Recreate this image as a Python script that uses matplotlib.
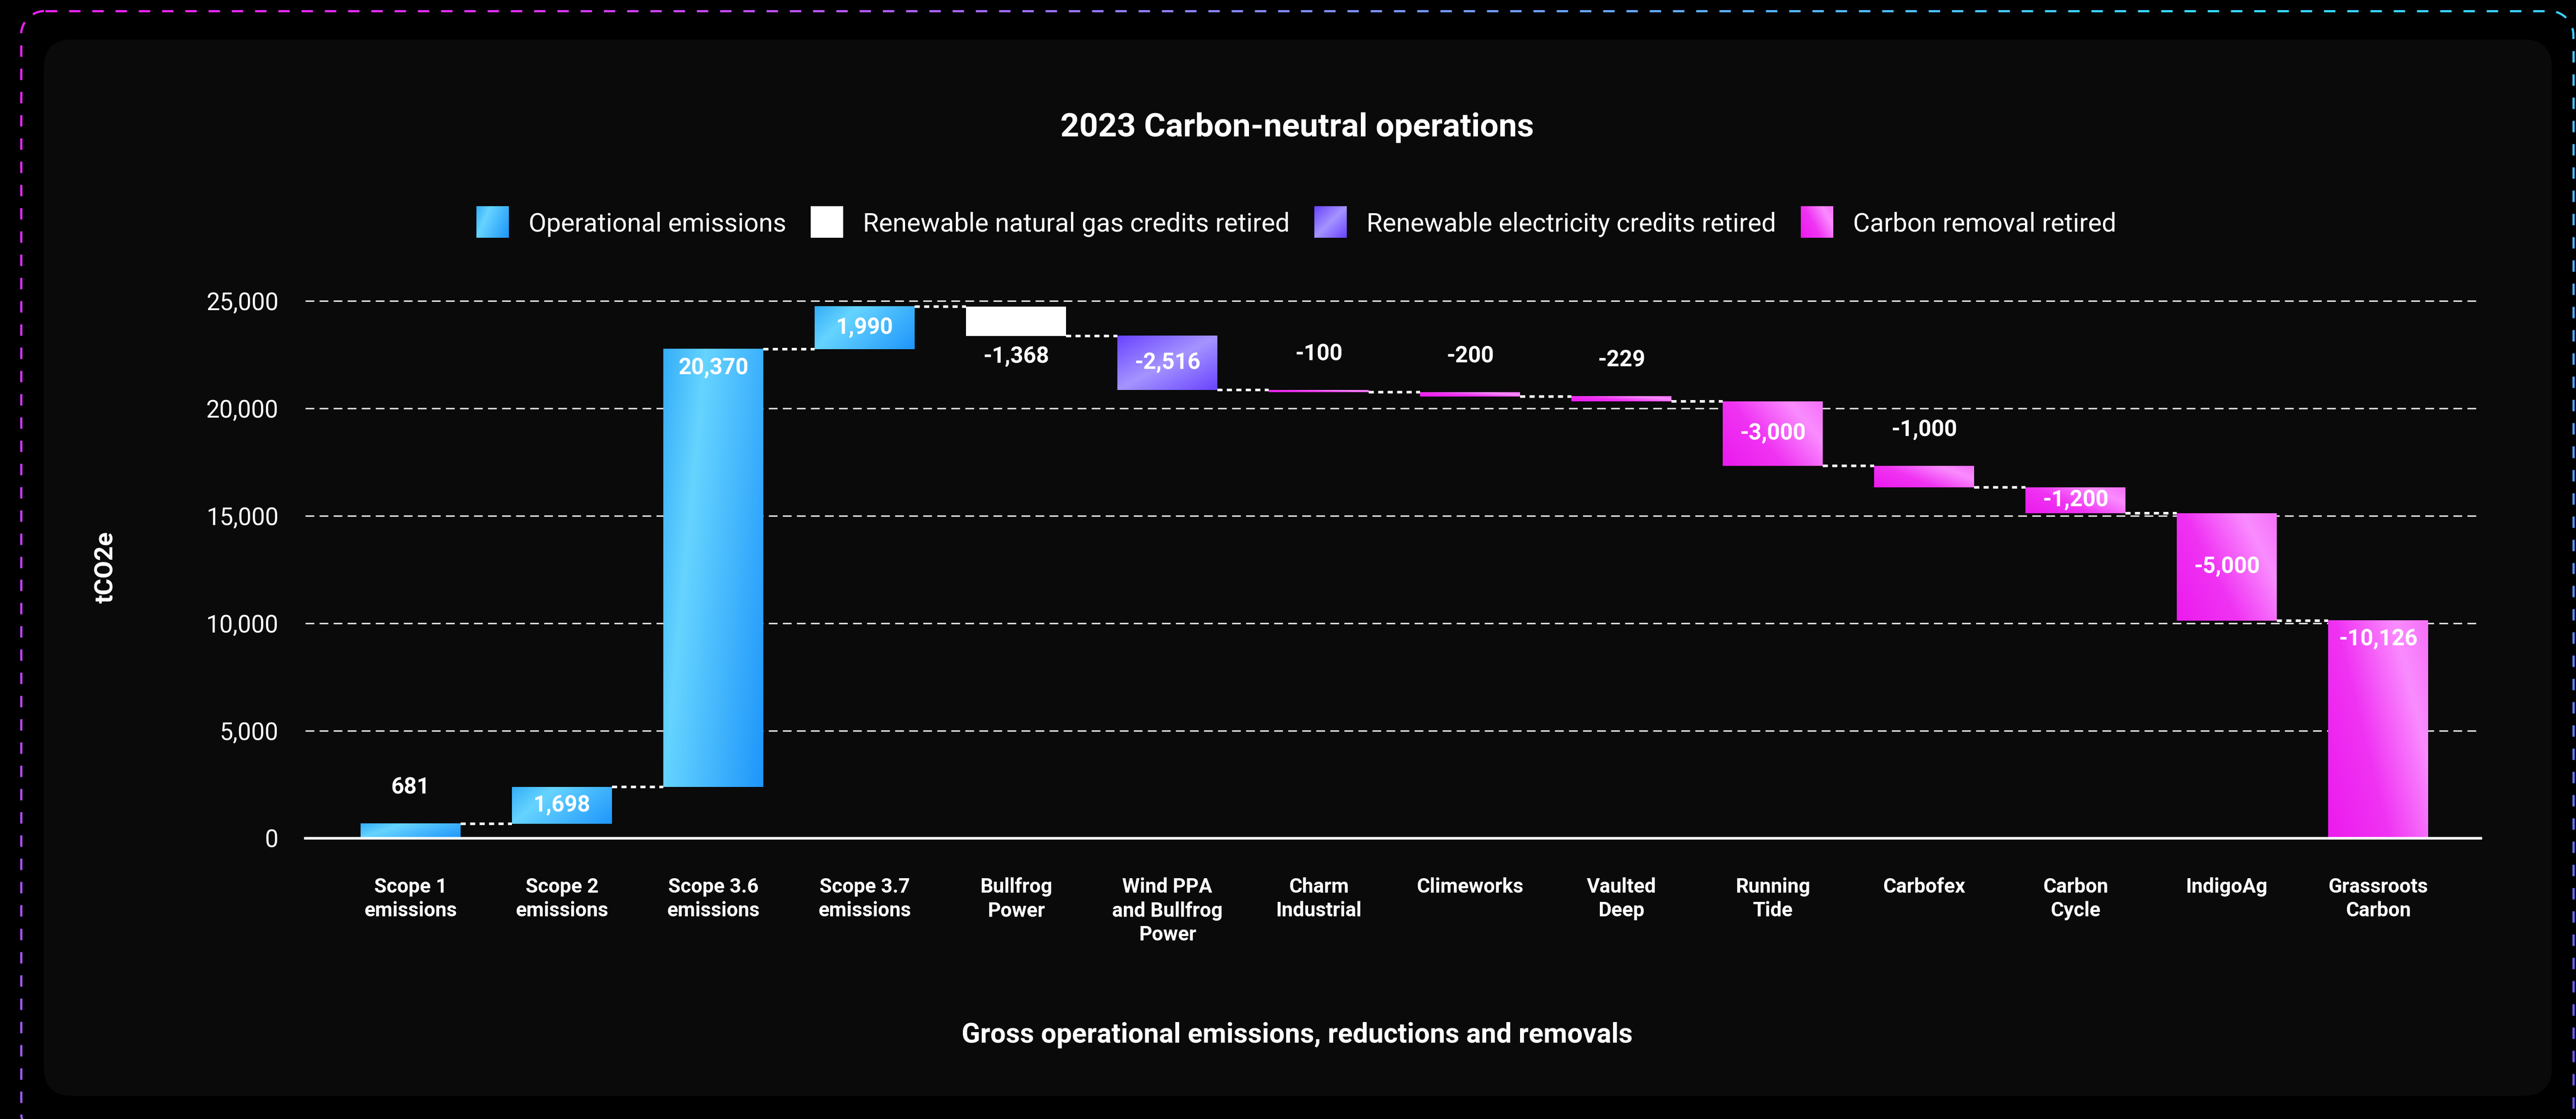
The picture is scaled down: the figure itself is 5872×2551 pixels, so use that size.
import numpy as np
import matplotlib
matplotlib.use('Agg')
import matplotlib.pyplot as plt
from matplotlib.colors import LinearSegmentedColormap
from matplotlib.patches import FancyBboxPatch, Rectangle
from matplotlib.collections import LineCollection

# %% data
categories = ['Scope 1\nemissions', 'Scope 2\nemissions', 'Scope 3.6\nemissions',
              'Scope 3.7\nemissions', 'Bullfrog\nPower', 'Wind PPA\nand Bullfrog\nPower',
              'Charm\nIndustrial', 'Climeworks', 'Vaulted\nDeep', 'Running\nTide',
              'Carbofex', 'Carbon\nCycle', 'IndigoAg', 'Grassroots\nCarbon']
values = [681, 1698, 20370, 1990, -1368, -2516, -100, -200, -229,
          -3000, -1000, -1200, -5000, -10126]
groups = ['op', 'op', 'op', 'op', 'gas', 'elec', 'rem', 'rem', 'rem',
          'rem', 'rem', 'rem', 'rem', 'rem']
legend_groups = ['op', 'gas', 'elec', 'rem']
legend_labels = ['Operational emissions', 'Renewable natural gas credits retired',
                 'Renewable electricity credits retired', 'Carbon removal retired']
y_ticks = [0, 5000, 10000, 15000, 20000, 25000]

# where each value label sits relative to its bar
label_pos = ['above', 'center', 'top', 'center', 'below', 'center', 'above', 'above',
             'above', 'center', 'above', 'center', 'center', 'top']

# %% style
W, H, DPI = 5872, 2551, 100
plt.rcParams['font.family'] = ['Roboto', 'DejaVu Sans']

grad_stops = {
    'op': [(0, '#35aef8'), (0.3, '#66d4ff'), (1, '#1e96fb')],
    'elec': [(0, '#6a44ff'), (0.5, '#a594ff'), (1, '#6a44ff')],
    'rem': [(0, '#ec1aee'), (0.4, '#f033f3'), (0.78, '#fa8cff'), (1, '#f670f9')],
}
grad_dir = {'op': (0.7, 0.3, False), 'elec': (0.5, 0.5, False), 'rem': (0.65, 0.35, True)}
base_col = {'op': '#38b6ff', 'gas': '#ffffff', 'elec': '#8f78ff', 'rem': '#f450f5'}
cmaps = {k: LinearSegmentedColormap.from_list(k, v) for k, v in grad_stops.items()}


def grad_img(group, nx, ny):
    u = np.linspace(0, 1, nx)[None, :]
    v = np.linspace(0, 1, ny)[:, None]
    a, b, flip = grad_dir[group]
    if flip:
        v = 1 - v
    return cmaps[group](a * u + b * v)


fig = plt.figure(figsize=(W / DPI, H / DPI), dpi=DPI, facecolor='black')

# %% background panel + dashed gradient border
bg = fig.add_axes([0, 0, 1, 1])
bg.set_zorder(0)
bg.axis('off')

bg.add_patch(FancyBboxPatch((100, 90), 5717, 2408,
                            boxstyle='round,pad=0,rounding_size=65',
                            fc='#0a0a0a', ec='none', zorder=1))


def rrect_points(x0, y0, x1, y1, r):
    def line(p, q):
        n = int(np.hypot(q[0] - p[0], q[1] - p[1])) + 2
        return np.column_stack([np.linspace(p[0], q[0], n), np.linspace(p[1], q[1], n)])

    def arc(cx, cy, a0, a1):
        a = np.radians(np.linspace(a0, a1, 60))
        return np.column_stack([cx + r * np.cos(a), cy + r * np.sin(a)])

    parts = [line((x0 + r, y0), (x1 - r, y0)), arc(x1 - r, y0 + r, -90, 0),
             line((x1, y0 + r), (x1, y1 - r)), arc(x1 - r, y1 - r, 0, 90),
             line((x1 - r, y1), (x0 + r, y1)), arc(x0 + r, y1 - r, 90, 180),
             line((x0, y1 - r), (x0, y0 + r)), arc(x0 + r, y0 + r, 180, 270)]
    return np.vstack(parts)


top_cm = LinearSegmentedColormap.from_list('top', [(0, '#f01ef5'), (0.2, '#e030f5'),
                                                   (0.45, '#8f80ff'), (0.7, '#55b8ff'),
                                                   (0.85, '#33dcff'), (1, '#3ad0ff')])
bot_cm = LinearSegmentedColormap.from_list('bot', ['#9a5af5', '#6e4ff2'])


def border_color(x, y):
    u = np.clip(x / W, 0, 1)
    v = np.clip(y / H, 0, 1)
    c1 = np.array(top_cm(u)[:3])
    c2 = np.array(bot_cm(u)[:3])
    return tuple(c1 * (1 - v) + c2 * v)


pts = rrect_points(48, 25, 5866, 2590, 55)
s = np.concatenate([[0], np.cumsum(np.hypot(*np.diff(pts, axis=0).T))])
segs, cols = [], []
for start in np.arange(0, s[-1], 53):
    m = (s >= start) & (s <= start + 27)
    if m.sum() >= 2:
        seg = pts[m]
        segs.append(seg)
        mid = seg[len(seg) // 2]
        cols.append(border_color(mid[0], mid[1]))
bg.add_collection(LineCollection(segs, colors=cols, linewidths=3.6, capstyle='butt', zorder=2))

# titles
bg.text(2957, 311, '2023 Carbon-neutral operations', ha='center', va='baseline',
        fontsize=54, fontweight='bold', color='white', zorder=3)
bg.text(2957, 2377, 'Gross operational emissions, reductions and removals', ha='center',
        va='baseline', fontsize=45, fontweight='bold', color='white', zorder=3)
bg.text(242, 1293, 'tCO2e', rotation=90, ha='center', va='center', fontsize=42,
        fontweight='bold', color='white', zorder=3)

# legend, laid out left to right and centred
renderer = fig.canvas.get_renderer()
sw_w, sw_h, gap_in, gap_out = 74, 72, 45, 56
leg_texts = [bg.text(0, 528, lab, va='baseline', ha='left', fontsize=42.5, color='white',
                     zorder=3) for lab in legend_labels]
bg.set_xlim(0, W)
bg.set_ylim(H, 0)
widths = [t.get_window_extent(renderer).width for t in leg_texts]
total = sum(sw_w + gap_in + w for w in widths) + gap_out * (len(widths) - 1)
cx = 2955 - total / 2
for g, t, w in zip(legend_groups, leg_texts, widths):
    if g in cmaps:
        bg.imshow(grad_img(g, 60, 60), extent=(cx, cx + sw_w, 506 + sw_h / 2, 506 - sw_h / 2),
                  origin='upper', aspect='auto', interpolation='bilinear', zorder=3)
    else:
        bg.add_patch(Rectangle((cx, 506 - sw_h / 2), sw_w, sw_h, fc='white', ec='none',
                               zorder=3))
    t.set_x(cx + sw_w + gap_in)
    cx += sw_w + gap_in + w + gap_out
bg.set_xlim(0, W)
bg.set_ylim(H, 0)

# %% waterfall
ax = fig.add_axes([696 / W, 640 / H, (5655 - 696) / W, (1914 - 640) / H])
ax.set_zorder(1)
ax.set_facecolor('none')

vals = np.array(values)
ends = np.cumsum(vals)
starts = ends - vals
bottoms = np.minimum(starts, ends)
heights = np.abs(vals)
x = np.arange(len(values))
bw = 0.66

bars = ax.bar(x, heights, bottom=bottoms, width=bw, zorder=2,
              color=[base_col[g] for g in groups], linewidth=0)

px_per_x = (5655 - 696) / 14.374
px_per_y = 1274 / 26000
for b, g in zip(bars, groups):
    if g not in cmaps:
        continue
    nx = int(b.get_width() * px_per_x)
    ny = max(2, int(b.get_height() * px_per_y))
    ax.imshow(grad_img(g, nx, ny), origin='upper', aspect='auto', interpolation='bilinear',
              extent=(b.get_x(), b.get_x() + b.get_width(), b.get_y(), b.get_y() + b.get_height()),
              zorder=2.1)

# dotted connectors
for i in range(len(values) - 1):
    ax.plot([x[i] + bw / 2, x[i + 1] - bw / 2], [ends[i], ends[i]], color='white', lw=4.2,
            linestyle=(0, (2.0, 1.7)), dash_capstyle='butt', zorder=3)

# value labels
for i, (v, pos) in enumerate(zip(values, label_pos)):
    top = bottoms[i] + heights[i]
    if pos == 'above':
        y0, dy = top, 59
    elif pos == 'below':
        y0, dy = bottoms[i], -34
    elif pos == 'top':
        y0, dy = top, -31
    else:
        y0, dy = bottoms[i] + heights[i] / 2, 0
    ax.annotate(f'{v:,}', xy=(x[i], y0), xytext=(0, dy), textcoords='offset points',
                ha='center', va='center', fontsize=37, fontweight='bold', color='white',
                zorder=4)

ax.axhline(0, color='white', lw=4.3, zorder=3, clip_on=False)
ax.set_yticks(y_ticks)
ax.set_yticklabels([f'{t:,}' for t in y_ticks])
ax.yaxis.grid(True, color='#e6e6e6', lw=2.4, linestyle=(0, (6, 3.6)))
ax.set_axisbelow(True)
ax.set_xticks(x)
ax.set_xticklabels(categories, fontsize=33, fontweight='bold', color='white',
                   linespacing=1.3)
ax.tick_params(axis='x', length=0, pad=64)
ax.tick_params(axis='y', length=0, pad=44, labelsize=39.5, labelcolor='white')
for sp in ax.spines.values():
    sp.set_visible(False)
ax.set_xlim(-0.696, 13.678)
ax.set_ylim(0, 26000)

fig.savefig('out.png', dpi=DPI, facecolor='black')
